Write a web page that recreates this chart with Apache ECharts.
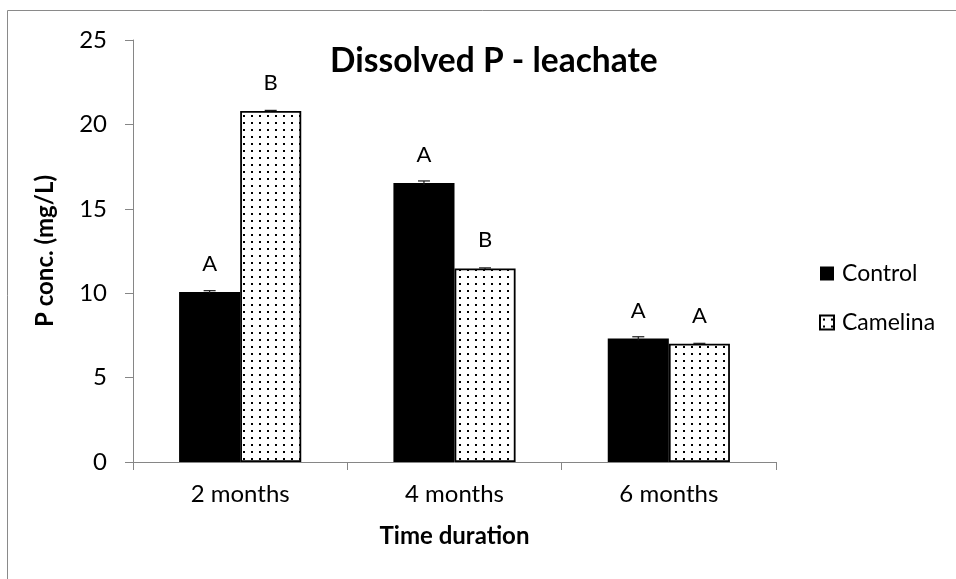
<!DOCTYPE html>
<html>
<head>
<meta charset="utf-8">
<script src="https://cdn.jsdelivr.net/npm/echarts@6/dist/echarts.min.js"></script>
<style>
  html, body { margin: 0; padding: 0; background: #fff; }
  #chart { width: 956px; height: 579px; }
</style>
</head>
<body>
<div id="chart"></div>
<script>
// Dissolved P in leachate, by time since amendment
const categories = ['2 months', '4 months', '6 months'];
const controlValues = [10.07, 16.53, 7.32];
const camelinaValues = [20.8, 11.47, 7.01];
const controlErrors = [0.08, 0.12, 0.1];
const camelinaErrors = [0.03, 0.03, 0.02];
const controlLetters = ['A', 'A', 'A'];
const camelinaLetters = ['B', 'B', 'A'];
const yMin = 0, yMax = 25, yStep = 5;

const FONT = 'Lato';
const AXIS_GREY = '#868686';
const CATEGORY_GAP = 0.43;

// small dotted fill used for the Camelina bars
function dotPattern() {
  const c = document.createElement('canvas');
  c.width = 8; c.height = 7;
  const ctx = c.getContext('2d');
  ctx.fillStyle = '#fff';
  ctx.fillRect(0, 0, 8, 7);
  ctx.fillStyle = '#000';
  ctx.fillRect(3, 3, 2, 2);
  return c;
}
const dots = { image: dotPattern(), repeat: 'repeat' };

// error whiskers drawn on top of each bar; side = -1 left bar, +1 right bar
function whiskers(side) {
  return function (params, api) {
    const ci = api.value(0), v = api.value(1), e = api.value(2);
    const band = api.size([1, 0])[0];
    const bw = band * (1 - CATEGORY_GAP) / 2;
    const hi = api.coord([ci, v + e]);
    const lo = api.coord([ci, v - e]);
    const x = hi[0] + side * bw / 2;
    const cap = 6;
    const style = { stroke: '#1a1a1a', lineWidth: 1.2 };
    return {
      type: 'group',
      children: [
        { type: 'line', shape: { x1: x, y1: lo[1], x2: x, y2: hi[1] }, style: style },
        { type: 'line', shape: { x1: x - cap, y1: hi[1], x2: x + cap, y2: hi[1] }, style: style }
      ]
    };
  };
}

const letterLabel = (letters) => ({
  show: true,
  position: 'top',
  distance: 17,
  fontFamily: FONT,
  fontSize: 22,
  color: '#000',
  formatter: (p) => letters[p.dataIndex]
});

const chart = echarts.init(document.getElementById('chart'), null, { renderer: 'canvas' });
chart.setOption({
  animation: false,
  backgroundColor: '#fff',
  textStyle: { fontFamily: FONT, color: '#000' },
  graphic: [{
    type: 'rect',
    shape: { x: 7.5, y: 10.5, width: 1000, height: 1000 },
    style: { fill: 'none', stroke: '#8a8a8a', lineWidth: 1 },
    silent: true,
    z: -1
  }],
  title: {
    text: 'Dissolved P - leachate',
    left: 330,
    top: 44,
    padding: 0,
    textStyle: { fontFamily: FONT, fontWeight: 'bold', fontSize: 33.5, color: '#000' }
  },
  legend: {
    orient: 'vertical',
    left: 819,
    top: 262,
    icon: 'rect',
    itemWidth: 14,
    itemHeight: 14,
    itemGap: 26,
    padding: 0,
    data: ['Control', 'Camelina'],
    textStyle: { fontFamily: FONT, fontSize: 23, color: '#000', lineHeight: 23, padding: [0, 0, 0, 3] }
  },
  grid: { left: 133, right: 180, top: 40, bottom: 117, containLabel: false },
  xAxis: {
    type: 'category',
    data: categories,
    name: 'Time duration',
    nameLocation: 'middle',
    nameGap: 62,
    nameTextStyle: { fontFamily: FONT, fontWeight: 'bold', fontSize: 24, color: '#000' },
    axisLine: { lineStyle: { color: AXIS_GREY, width: 1 } },
    axisTick: { show: true, length: 8, alignWithLabel: false, lineStyle: { color: AXIS_GREY } },
    axisLabel: { fontFamily: FONT, fontSize: 24, color: '#000', margin: 20 },
    splitLine: { show: false }
  },
  yAxis: {
    type: 'value',
    min: yMin,
    max: yMax,
    interval: yStep,
    name: 'P conc. (mg/L)',
    nameLocation: 'middle',
    nameGap: 76,
    nameTextStyle: { fontFamily: FONT, fontWeight: 'bold', fontSize: 24, color: '#000' },
    axisLine: { show: true, lineStyle: { color: AXIS_GREY, width: 1 } },
    axisTick: { show: true, length: 8, lineStyle: { color: AXIS_GREY } },
    axisLabel: { fontFamily: FONT, fontSize: 24, color: '#000', margin: 26 },
    splitLine: { show: false }
  },
  series: [
    {
      name: 'Control',
      type: 'bar',
      data: controlValues,
      barGap: '0%',
      barCategoryGap: (CATEGORY_GAP * 100) + '%',
      itemStyle: { color: '#000', borderColor: '#000', borderWidth: 0 },
      label: letterLabel(controlLetters)
    },
    {
      name: 'Camelina',
      type: 'bar',
      data: camelinaValues,
      barGap: '0%',
      barCategoryGap: (CATEGORY_GAP * 100) + '%',
      itemStyle: { color: dots, borderColor: '#000', borderWidth: 1.8 },
      label: letterLabel(camelinaLetters)
    },
    {
      name: 'Control error',
      type: 'custom',
      renderItem: whiskers(-1),
      data: controlValues.map((v, i) => [i, v, controlErrors[i]]),
      z: 5
    },
    {
      name: 'Camelina error',
      type: 'custom',
      renderItem: whiskers(1),
      data: camelinaValues.map((v, i) => [i, v, camelinaErrors[i]]),
      z: 5
    }
  ]
});
</script>
</body>
</html>
